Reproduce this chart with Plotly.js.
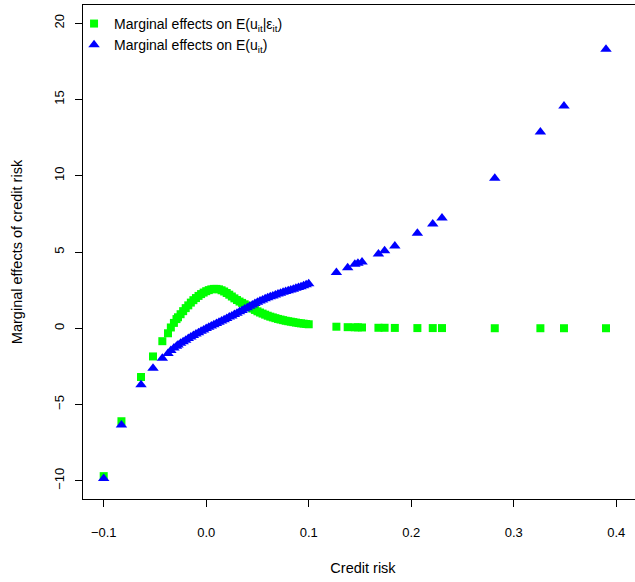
<!DOCTYPE html>
<html>
<head>
<meta charset="utf-8">
<script src="https://cdn.plot.ly/plotly-3.0.1.min.js"></script>
<style>
html,body{margin:0;padding:0;overflow:hidden;background:#fff;}
#chart{width:660px;height:582px;}
</style>
</head>
<body>
<div id="chart"></div>
<script>
// Credit risk (x) observations
var creditRisk = [
  -0.100, -0.0827, -0.0636, -0.0519, -0.0428,
  -0.0373, -0.0345, -0.0315, -0.029,
  -0.0275, -0.025, -0.0225, -0.020, -0.0175, -0.015, -0.0125, -0.010, -0.0075, -0.005, -0.0025,
  0.000, 0.0025, 0.005, 0.0075, 0.010, 0.0125, 0.015, 0.0175, 0.020, 0.0225,
  0.025, 0.0275, 0.030, 0.0325, 0.035, 0.0375, 0.040, 0.0425, 0.045, 0.0475,
  0.050, 0.0525, 0.055, 0.0575, 0.060, 0.0625, 0.065, 0.0675, 0.070, 0.0725,
  0.075, 0.0775, 0.080, 0.0825, 0.085, 0.0875, 0.090, 0.0925, 0.095, 0.0975, 0.100,
  0.127, 0.138, 0.145, 0.148, 0.152, 0.168, 0.174, 0.184, 0.206, 0.221, 0.230, 0.2815, 0.326, 0.349, 0.390
];
// Marginal effects on E(u_it | eps_it)  (green squares)
var effectConditional = [
  -9.7, -6.1, -3.2, -1.85, -0.85,
  -0.33, 0.05, 0.35, 0.6,
  0.72, 0.92, 1.12, 1.32, 1.5, 1.68, 1.84, 1.98, 2.12, 2.24, 2.34,
  2.43, 2.5, 2.55, 2.58, 2.58, 2.55, 2.49, 2.41, 2.31, 2.2,
  2.08, 1.96, 1.85, 1.75, 1.66, 1.57, 1.48, 1.38, 1.29, 1.2,
  1.11, 1.03, 0.96, 0.89, 0.82, 0.76, 0.71, 0.66, 0.61, 0.57,
  0.53, 0.49, 0.46, 0.43, 0.4, 0.37, 0.34, 0.32, 0.3, 0.28, 0.26,
  0.1, 0.07, 0.06, 0.06, 0.05, 0.03, 0.03, 0.02, 0.01, 0.01, 0.01, 0.0, 0.0, 0.0, 0.0
];
// Marginal effects on E(u_it)  (blue triangles)
var effectUnconditional = [
  -9.85, -6.35, -3.7, -2.62, -1.97,
  -1.65, -1.46, -1.3, -1.18,
  -1.1, -0.98, -0.88, -0.78, -0.68, -0.57, -0.48, -0.38, -0.29, -0.2, -0.11,
  -0.02, 0.07, 0.15, 0.23, 0.31, 0.39, 0.47, 0.56, 0.64, 0.73,
  0.81, 0.9, 0.99, 1.08, 1.17, 1.26, 1.35, 1.44, 1.53, 1.62,
  1.7, 1.78, 1.86, 1.94, 2.0, 2.06, 2.12, 2.18, 2.24, 2.3,
  2.36, 2.41, 2.46, 2.51, 2.56, 2.62, 2.67, 2.72, 2.78, 2.85, 2.92,
  3.65, 3.97, 4.2, 4.26, 4.35, 4.87, 5.09, 5.4, 6.23, 6.84, 7.23, 9.84, 12.87, 14.58, 18.3
];
var xTickVals = [-0.1, 0.0, 0.1, 0.2, 0.3, 0.4];
var xTickText = ["\u22120.1", "0.0", "0.1", "0.2", "0.3", "0.4"];
var yTickVals = [-10, -5, 0, 5, 10, 15, 20];
var yTickText = ["\u221210", "\u22125", "0", "5", "10", "15", "20"];
var seriesNames = [
  "Marginal effects on E(u<sub>it</sub>|\u03b5<sub>it</sub>)",
  "Marginal effects on E(u<sub>it</sub>)"
];

var FONT = "Liberation Sans, Arial, Helvetica, sans-serif";

var traces = [
  {
    x: creditRisk, y: effectConditional, type: "scatter", mode: "markers",
    name: seriesNames[0],
    marker: {symbol: "square", size: 8, color: "#00ff00", line: {width: 0}}
  },
  {
    x: creditRisk, y: effectUnconditional, type: "scatter", mode: "markers",
    name: seriesNames[1],
    marker: {symbol: "triangle-up", size: 10, color: "#0000ff", line: {width: 0}}
  }
];

var layout = {
  width: 660, height: 582,
  margin: {l: 83, r: 17, t: 5, b: 83},
  paper_bgcolor: "#fff", plot_bgcolor: "#fff",
  font: {family: FONT, color: "#000", size: 13},
  showlegend: true,
  legend: {
    x: -0.016, y: 0.994, xanchor: "left", yanchor: "top",
    bgcolor: "rgba(0,0,0,0)", borderwidth: 0,
    font: {family: FONT, size: 14, color: "#000"},
    tracegroupgap: 0
  },
  xaxis: {
    range: [-0.1202, 0.4261],
    tickvals: xTickVals, ticktext: xTickText,
    ticks: "outside", ticklen: 7, tickwidth: 1, tickcolor: "#000",
    showline: true, mirror: true, linecolor: "#000", linewidth: 1,
    showgrid: false, zeroline: false,
    tickfont: {family: FONT, size: 13, color: "#000"},
    ticklabelstandoff: 14,
    title: {text: "Credit risk", font: {family: FONT, size: 14.5, color: "#000"}, standoff: 24}
  },
  yaxis: {
    range: [-11.2, 21.2],
    tickvals: yTickVals, ticktext: yTickText,
    tickangle: -90,
    ticks: "outside", ticklen: 7, tickwidth: 1, tickcolor: "#000",
    showline: true, mirror: true, linecolor: "#000", linewidth: 1,
    showgrid: false, zeroline: false,
    tickfont: {family: FONT, size: 13, color: "#000"},
    ticklabelstandoff: 6,
    title: {text: "Marginal effects of credit risk", font: {family: FONT, size: 14.5, color: "#000"}, standoff: 25}
  }
};

Plotly.newPlot("chart", traces, layout, {displayModeBar: false, staticPlot: true});
</script>
</body>
</html>
